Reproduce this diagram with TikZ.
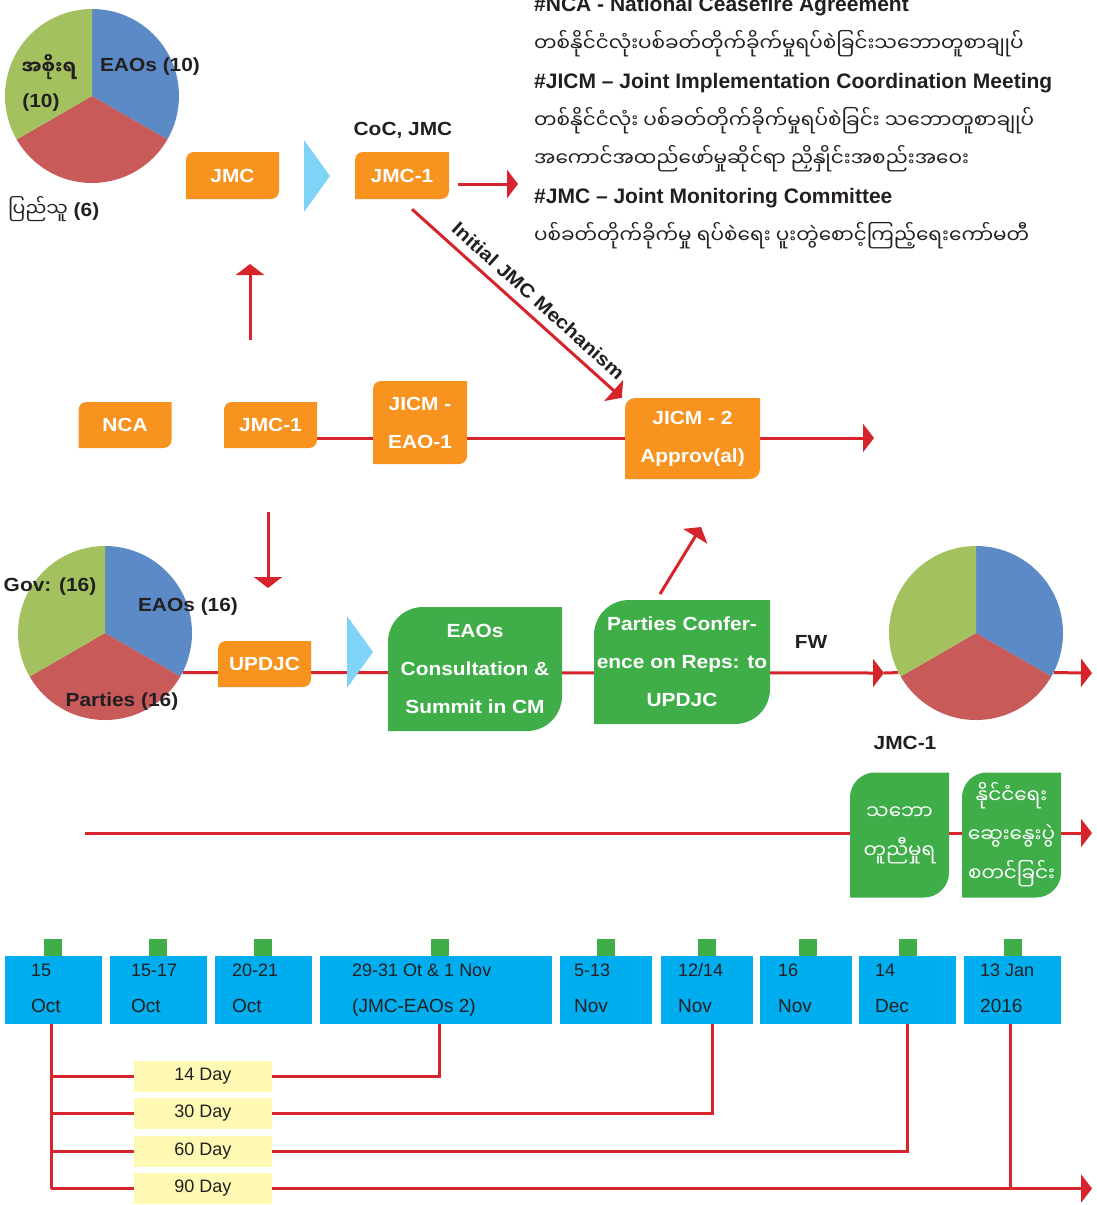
\documentclass[tikz,border=0pt]{standalone}
\usepackage{fontspec}
\setmainfont{Liberation Sans}
\newfontfamily\wbf[FakeStretch=1.1]{Liberation Sans}
\newfontfamily\mya[Script=Myanmar]{Noto Sans Myanmar UI}
\usetikzlibrary{arrows.meta,calc}
\pgfdeclarelayer{back}
\pgfsetlayers{back,main}
\definecolor{pblue}{HTML}{5B8AC6}
\definecolor{pred}{HTML}{C85A5A}
\definecolor{pgreen}{HTML}{A3C15F}
\definecolor{org}{HTML}{F7931E}
\definecolor{grn}{HTML}{3FAE49}
\definecolor{tblue}{HTML}{00AEEF}
\definecolor{chev}{HTML}{7FD3F7}
\definecolor{rline}{HTML}{D7232B}
\definecolor{yel}{HTML}{FFF9B3}
\definecolor{txt}{HTML}{231F20}
% name, cx, cy (px, down), w, h, r, fill colour, node style, text
\newcommand\leafnode[9]{%
 \fill[#7] ({#2-#4/2},{-#3-#5/2}) -- ({#2-#4/2},{-#3+#5/2-#6}) arc[start angle=180,end angle=90,radius=#6pt] -- ({#2+#4/2},{-#3+#5/2}) -- ({#2+#4/2},{-#3-#5/2+#6}) arc[start angle=0,end angle=-90,radius=#6pt] -- cycle;
 \node[#8, minimum width=#4pt, minimum height=#5pt] (#1) at (#2,-#3) {#9};}
\newcommand\piechart[3]{%
 \coordinate (#1c) at (#2,-#3);
 \fill[pblue] (#1c) -- ++(90:87pt) arc[start angle=90,end angle=-30,radius=87pt] -- cycle;
 \fill[pred] (#1c) -- ++(-30:87pt) arc[start angle=-30,end angle=-150,radius=87pt] -- cycle;
 \fill[pgreen] (#1c) -- ++(-150:87pt) arc[start angle=-150,end angle=-270,radius=87pt] -- cycle;
 \node[circle, minimum size=174pt, inner sep=0pt] (#1) at (#2,-#3) {};}
% name, x1, width, text x, line1, line2, square x
\newcommand\tbox[7]{%
 \node[tboxs, minimum width=#3pt, anchor=north west] (#1) at (#2,-956) {};
 \node[sq] (#1s) at (#7,-947.5) {};
 \node[tl1, anchor=base west] (#1a) at (#4,-976) {#5};
 \node[tl2, anchor=base west] (#1b) at (#4,-1012) {#6};}
\begin{document}
\begin{tikzpicture}[x=1pt,y=1pt,
 rl/.style={draw=rline, line width=3pt},
 arr/.style={-{Triangle[length=11pt,width=28pt]}},
 boxtxt/.style={text=white, font=\wbf\bfseries\fontsize{19}{38}\selectfont, align=center, inner sep=0pt},
 mybox/.style={text=white, font=\mya\fontsize{20}{39}\selectfont, align=center, inner sep=0pt},
 lbl/.style={text=txt, font=\wbf\bfseries\fontsize{19}{22}\selectfont, inner sep=0pt},
 hdr/.style={anchor=west, text=txt, font=\bfseries\fontsize{21}{24}\selectfont, inner sep=0pt},
 myhdr/.style={anchor=west, text=txt, font=\mya\fontsize{20}{24}\selectfont, inner sep=0pt},
 tboxs/.style={fill=tblue, minimum height=68pt, inner sep=0pt},
 sq/.style={fill=grn, minimum width=18pt, minimum height=17pt, inner sep=0pt},
 tl1/.style={text=txt, font=\fontsize{18}{20}\selectfont, inner sep=0pt},
 tl2/.style={text=txt, font=\fontsize{19}{20}\selectfont, inner sep=0pt},
 ybox/.style={fill=yel, text=txt, minimum width=138pt, minimum height=31pt, inner sep=0pt, font=\fontsize{18}{20}\selectfont}
]
\useasboundingbox (0,0) rectangle (1097,-1205);

% ---------- header text ----------
\node[hdr] (h1) at (534,-6) {\#NCA - National Ceasefire Agreement};
\node[myhdr] (h2) at (534,-44) {တစ်နိုင်ငံလုံးပစ်ခတ်တိုက်ခိုက်မှုရပ်စဲခြင်းသဘောတူစာချုပ်};
\node[hdr] (h3) at (534,-83) {\#JICM – Joint Implementation Coordination Meeting};
\node[myhdr] (h4) at (534,-121) {တစ်နိုင်ငံလုံး ပစ်ခတ်တိုက်ခိုက်မှုရပ်စဲခြင်း သဘောတူစာချုပ်};
\node[myhdr] (h5) at (534,-159) {အကောင်အထည်ဖော်မှုဆိုင်ရာ ညှိနှိုင်းအစည်းအဝေး};
\node[hdr] (h6) at (534,-198) {\#JMC – Joint Monitoring Committee};
\node[myhdr] (h7) at (534,-236) {ပစ်ခတ်တိုက်ခိုက်မှု ရပ်စဲရေး ပူးတွဲစောင့်ကြည့်ရေးကော်မတီ};

% ---------- pies ----------
\piechart{pa}{92}{96}
\piechart{pb}{105}{633}
\piechart{pc}{976}{633}
\node[lbl] (la1) at (49,-67) {\mya\bfseries အစိုးရ};
\node[lbl] (la2) at (41,-103) {(10)};
\node[lbl] (la3) at (150,-67) {EAOs (10)};
\node[lbl, anchor=west] (la4) at (8,-209) {{\mya\mdseries ပြည်သူ} (6)};
\node[lbl] (lb1) at (50,-587) {Gov: (16)};
\node[lbl] (lb2) at (188,-607) {EAOs (16)};
\node[lbl] (lb3) at (122,-702) {Parties (16)};

% ---------- chevrons ----------
\fill[chev] (304,-140) -- (330,-176) -- (304,-212) -- cycle;
\fill[chev] (347,-616) -- (373,-652) -- (347,-688) -- cycle;

% ---------- orange boxes ----------
\leafnode{jmc}{232.5}{175.5}{93}{47}{8}{org}{boxtxt}{JMC}
\leafnode{jmca}{402}{175.5}{94}{47}{8}{org}{boxtxt}{JMC-1}
\leafnode{nca}{125}{425}{93}{46}{8}{org}{boxtxt}{NCA}
\leafnode{jmcb}{270.5}{425}{93}{46}{8}{org}{boxtxt}{JMC-1}
\leafnode{jicma}{420}{422.5}{94}{83}{8}{org}{boxtxt}{JICM -\\EAO-1}
\leafnode{jicmb}{692.5}{438.5}{135}{81}{10}{org}{boxtxt}{JICM - 2\\Approv(al)}
\leafnode{updjc}{264.5}{664}{93}{46}{8}{org}{boxtxt}{UPDJC}

% ---------- green boxes ----------
\leafnode{eaos}{475}{669}{174}{124}{35}{grn}{boxtxt}{EAOs\\Consultation \&\\Summit in CM}
\leafnode{pconf}{682}{662}{176}{124}{35}{grn}{boxtxt}{Parties Confer-\\ence on Reps: to\\UPDJC}
\leafnode{agree}{899.5}{835}{99}{125}{25}{grn}{mybox}{သဘော\\တူညီမှုရ}
\leafnode{polit}{1011.5}{835}{99}{125}{25}{grn}{mybox}{နိုင်ငံရေး\\ဆွေးနွေးပွဲ\\စတင်ခြင်း}

% ---------- labels ----------
\node[lbl] (coc) at (403,-130) {CoC, JMC};
\node[lbl] (fw) at (811,-642) {FW};
\node[lbl] (jmcl) at (905,-743) {JMC-1};

% ---------- timeline ----------
\tbox{ta}{5}{97}{31}{15}{Oct}{53}
\tbox{tb}{110}{97}{131}{15-17}{Oct}{158}
\tbox{tc}{215}{97}{232}{20-21}{Oct}{263}
\tbox{td}{320}{232}{352}{29-31 Ot \& 1 Nov}{(JMC-EAOs 2)}{440}
\tbox{te}{560}{92}{574}{5-13}{Nov}{606}
\tbox{tf}{661}{92}{678}{12/14}{Nov}{707}
\tbox{tg}{760}{92}{778}{16}{Nov}{808}
\tbox{th}{859}{97}{875}{14}{Dec}{908}
\tbox{ti}{964}{97}{980}{13 Jan}{2016}{1013}

\node[ybox] (d14) at (203,-1076.5) {14 Day};
\node[ybox] (d30) at (203,-1113.5) {30 Day};
\node[ybox] (d60) at (203,-1151.5) {60 Day};
\node[ybox] (d90) at (203,-1188.5) {90 Day};

% ---------- free connector ends ----------
\coordinate (topend) at (518,-184);
\coordinate (upa) at (250,-340);
\coordinate (upb) at (250,-264);
\coordinate (dna) at (268,-512);
\coordinate (dnb) at (268,-588);
\coordinate (ura) at (660,-594);
\coordinate (urb) at (701,-527);
\coordinate (midend) at (874,-438);
\coordinate (fwend) at (884,-673);
\coordinate (botend) at (1092,-673);
\coordinate (r3s) at (85,-833);
\coordinate (r3e) at (1092,-833);
\coordinate (tlend) at (1092,-1188.5);

\begin{pgfonlayer}{back}
 \draw[rl,arr] ([xshift=9pt,yshift=-8.5pt]jmca.east) -- (topend);
 \draw[rl,arr] ([xshift=10pt,yshift=-10pt]jmca.south) -- ([xshift=-3pt]jicmb.north west)
   node[lbl, pos=0.55, sloped, above=8pt] (mech) {Initial JMC Mechanism};
 \draw[rl,arr] (upa) -- (upb);
 \draw[rl,arr] (dna) -- (dnb);
 \draw[rl,arr] (ura) -- (urb);
 \draw[rl,arr] (jmcb.east |- midend) -- (midend);
 \draw[rl,arr] (pb.-27.4) -- (fwend);
 \draw[rl] (fwend) -- (pc.207.4);
 \draw[rl,arr] (pc.-27.4) -- (botend);
 \draw[rl,arr] (r3s) -- (r3e);
 % timeline connectors
 \draw[rl] ([xshift=-2.5pt]ta.south) coordinate (v0) -- (v0 |- d90.west);
 \draw[rl] (v0 |- d14.west) -| ([xshift=3pt]td.south);
 \draw[rl] (v0 |- d30.west) -| ([xshift=5pt]tf.south);
 \draw[rl] (v0 |- d60.west) -| (th.south);
 \draw[rl,arr] (v0 |- d90.west) -- (tlend);
 \draw[rl] ([xshift=-2pt]ti.south) -- ([xshift=-2pt]ti.south |- d90.west);
\end{pgfonlayer}
\end{tikzpicture}
\end{document}
